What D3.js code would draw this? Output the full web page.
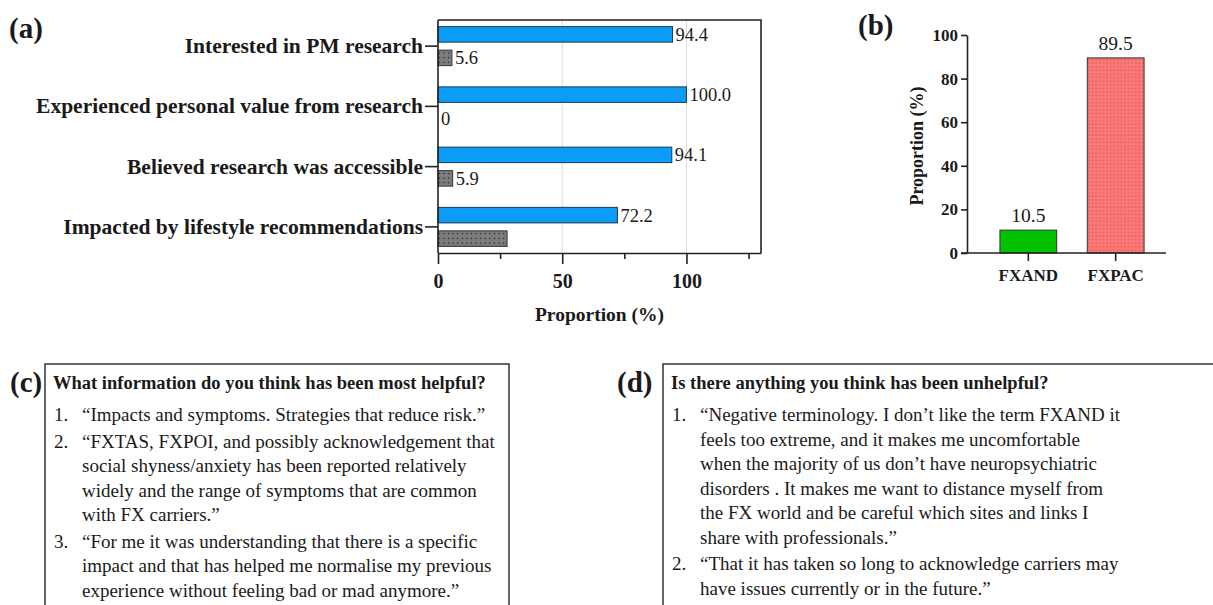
<!DOCTYPE html>
<html lang='en'>
<head>
	<meta charset='utf-8'>
	<script type='text/javascript' src='https://d3js.org/d3.v7.min.js'></script>
	<style type='text/css'>
		body { margin:0; background:#fff; }
		svg text { font-family:"Palatino Linotype", "Book Antiqua", Palatino, "Liberation Serif", serif; fill:#1a1a1a; }
		.bold { font-weight:bold; }
		.axis path, .axis line { stroke:#222; stroke-width:1.6; }
		.axis text { font-weight:bold; fill:#1a1a1a; }
	</style>
</head>
<body>
	<div id='chart'></div>
	<script type='text/javascript'>
		//panel (a) data
		var categoriesA = ['Interested in PM research', 'Experienced personal value from research', 'Believed research was accessible', 'Impacted by lifestyle recommendations'];
		var yesA = [94.4, 100.0, 94.1, 72.2];
		var noA = [5.6, 0, 5.9, 27.8];
		var showNoLabel = [true, true, true, false];
		var ticksA = [0, 50, 100];
		var minorTicksA = [25, 75, 125];

		//panel (b) data
		var groupsB = ['FXAND', 'FXPAC'];
		var valuesB = [10.5, 89.5];
		var ticksB = [0, 20, 40, 60, 80, 100];

		//panel (c) and (d) text
		var titleC = 'What information do you think has been most helpful?';
		var itemsC = [
			['\u201CImpacts and symptoms. Strategies that reduce risk.\u201D'],
			['\u201CFXTAS, FXPOI, and possibly acknowledgement that', 'social shyness/anxiety has been reported relatively', 'widely and the range of symptoms that are common', 'with FX carriers.\u201D'],
			['\u201CFor me it was understanding that there is a specific', 'impact and that has helped me normalise my previous', 'experience without feeling bad or mad anymore.\u201D']
		];
		var titleD = 'Is there anything you think has been unhelpful?';
		var itemsD = [
			['\u201CNegative terminology. I don\u2019t like the term FXAND it', 'feels too extreme, and it makes me uncomfortable', 'when the majority of us don\u2019t have neuropsychiatric', 'disorders . It makes me want to distance myself from', 'the FX world and be careful which sites and links I', 'share with professionals.\u201D'],
			['\u201CThat it has taken so long to acknowledge carriers may', 'have issues currently or in the future.\u201D']
		];

		var width = 1213,
			height = 605;

		var svg = d3.select('#chart')
			.append('svg')
			.attr('width', width)
			.attr('height', height);

		//dot patterns
		var defs = svg.append('defs');
		var grayPat = defs.append('pattern')
			.attr('id', 'grayDots')
			.attr('patternUnits', 'userSpaceOnUse')
			.attr('width', 4.6).attr('height', 4.6);
		grayPat.append('rect').attr('width', 4.6).attr('height', 4.6).attr('fill', '#7d7d7d');
		grayPat.append('circle').attr('cx', 2.3).attr('cy', 2.3).attr('r', 0.75).attr('fill', '#1a1a1a');

		var pinkPat = defs.append('pattern')
			.attr('id', 'pinkDots')
			.attr('patternUnits', 'userSpaceOnUse')
			.attr('width', 3.6).attr('height', 3.6);
		pinkPat.append('rect').attr('width', 3.6).attr('height', 3.6).attr('fill', '#ff7878');
		pinkPat.append('circle').attr('cx', 1.8).attr('cy', 1.8).attr('r', 0.55).attr('fill', '#8a3434');

		// ---------- panel (a) ----------
		var ax0 = 438, ax1 = 761, ayTop = 20, ayBot = 253;
		var xA = d3.scaleLinear().domain([0, 130]).range([ax0, ax1]);
		var yA = d3.scaleBand().domain(categoriesA).range([16, 257]);
		var subA = d3.scaleBand().domain(['yes', 'no']).range([-19.5, 19.5]).paddingInner(0.34);

		var gA = svg.append('g');

		gA.append('text').attr('class', 'bold')
			.attr('x', 9).attr('y', 38)
			.style('font-size', '29px')
			.text('(a)');

		//gridlines
		gA.selectAll('.grid')
			.data(ticksA.slice(1))
			.enter()
			.append('line')
			.attr('x1', function(d){ return xA(d); })
			.attr('x2', function(d){ return xA(d); })
			.attr('y1', ayTop).attr('y2', ayBot)
			.style('stroke', '#dcdcdc')
			.style('stroke-width', 1);

		//frame
		gA.append('path')
			.attr('d', 'M' + ax0 + ',' + ayTop + 'H' + ax1 + 'V' + ayBot)
			.style('fill', 'none')
			.style('stroke', '#222')
			.style('stroke-width', 1.6);

		var rowsA = categoriesA.map(function(c, i){ return {cat:c, yes:yesA[i], no:noA[i], show:showNoLabel[i]}; });

		var row = gA.selectAll('.row')
			.data(rowsA)
			.enter()
			.append('g')
			.attr('transform', function(d){ return 'translate(0,' + (yA(d.cat) + yA.bandwidth() / 2) + ')'; });

		row.append('rect')
			.attr('x', xA(0))
			.attr('y', subA('yes'))
			.attr('width', function(d){ return xA(d.yes) - xA(0); })
			.attr('height', subA.bandwidth())
			.style('fill', '#0a9cf7')
			.style('stroke', '#20384f')
			.style('stroke-width', 1);

		row.append('rect')
			.attr('x', xA(0))
			.attr('y', subA('no'))
			.attr('width', function(d){ return xA(d.no) - xA(0); })
			.attr('height', subA.bandwidth())
			.style('fill', 'url(#grayDots)')
			.style('stroke', function(d){ return d.no > 0 ? '#333' : 'none'; })
			.style('stroke-width', 1);

		row.append('text')
			.attr('x', function(d){ return xA(d.yes) + 3; })
			.attr('y', subA('yes') + subA.bandwidth() / 2)
			.attr('dy', '0.35em')
			.style('font-size', '18.5px')
			.text(function(d){ return d.yes.toFixed(1); });

		row.filter(function(d){ return d.show; })
			.append('text')
			.attr('x', function(d){ return xA(d.no) + 3; })
			.attr('y', subA('no') + subA.bandwidth() / 2)
			.attr('dy', '0.35em')
			.style('font-size', '18.5px')
			.text(function(d){ return d.no === 0 ? '0' : d.no.toFixed(1); });

		//category axis
		var yAxisA = gA.append('g')
			.attr('class', 'axis')
			.attr('transform', 'translate(' + ax0 + ',0)')
			.call(d3.axisLeft(yA).tickSize(13).tickSizeOuter(0).tickPadding(2));
		yAxisA.select('.domain').attr('d', 'M0,' + ayTop + 'V' + ayBot);
		yAxisA.selectAll('text').style('font-size', '21.5px');

		//value axis
		var xAxisA = gA.append('g')
			.attr('class', 'axis')
			.attr('transform', 'translate(0,' + ayBot + ')')
			.call(d3.axisBottom(xA).tickValues(ticksA).tickSize(11).tickSizeOuter(0).tickPadding(10));
		xAxisA.selectAll('text').style('font-size', '20px');

		gA.append('g')
			.attr('class', 'axis')
			.attr('transform', 'translate(0,' + ayBot + ')')
			.call(d3.axisBottom(xA).tickValues(minorTicksA).tickSize(6).tickSizeOuter(0).tickFormat(''))
			.select('.domain').remove();

		gA.append('text').attr('class', 'bold')
			.attr('x', (ax0 + ax1) / 2).attr('y', 321)
			.attr('text-anchor', 'middle')
			.style('font-size', '19.5px')
			.text('Proportion (%)');

		// ---------- panel (b) ----------
		var bx0 = 967, byTop = 35, byBot = 253;
		var xB = d3.scaleBand().domain(groupsB).range([bx0, 1177]).paddingInner(0.35).paddingOuter(0.377);
		var yB = d3.scaleLinear().domain([0, 100]).range([byBot, byTop]);

		var gB = svg.append('g');

		gB.append('text').attr('class', 'bold')
			.attr('x', 858).attr('y', 35)
			.style('font-size', '29px')
			.text('(b)');

		var barsB = groupsB.map(function(g, i){ return {name:g, value:valuesB[i]}; });

		gB.selectAll('.barB')
			.data(barsB)
			.enter()
			.append('rect')
			.attr('x', function(d){ return xB(d.name); })
			.attr('y', function(d){ return yB(d.value); })
			.attr('width', xB.bandwidth())
			.attr('height', function(d){ return yB(0) - yB(d.value); })
			.style('fill', function(d, i){ return i === 0 ? '#00c200' : 'url(#pinkDots)'; })
			.style('stroke', '#333')
			.style('stroke-width', 1);

		gB.selectAll('.labelB')
			.data(barsB)
			.enter()
			.append('text')
			.attr('x', function(d){ return xB(d.name) + xB.bandwidth() / 2; })
			.attr('y', function(d){ return yB(d.value) - 8; })
			.attr('text-anchor', 'middle')
			.style('font-size', '19.5px')
			.text(function(d){ return d.value.toFixed(1); });

		var yAxisB = gB.append('g')
			.attr('class', 'axis')
			.attr('transform', 'translate(' + bx0 + ',0)')
			.call(d3.axisLeft(yB).tickValues(ticksB).tickSize(6).tickSizeOuter(0).tickPadding(3));
		yAxisB.selectAll('text').style('font-size', '17px');

		var xAxisB = gB.append('g')
			.attr('class', 'axis')
			.attr('transform', 'translate(0,' + byBot + ')')
			.call(d3.axisBottom(xB).tickSize(8).tickSizeOuter(0).tickPadding(8));
		xAxisB.select('.domain').attr('d', 'M' + (bx0 - 6) + ',0H1166');
		xAxisB.selectAll('text').style('font-size', '17px');

		gB.append('text').attr('class', 'bold')
			.attr('transform', 'translate(917,' + ((byTop + byBot) / 2 + 2) + ') rotate(-90)')
			.attr('text-anchor', 'middle')
			.attr('dy', '0.35em')
			.style('font-size', '18px')
			.text('Proportion (%)');

		// ---------- panels (c) and (d) ----------
		function textBox(label, labelX, boxX, boxW, title, items){
			var g = svg.append('g');
			var boxTop = 364;
			g.append('rect')
				.attr('x', boxX).attr('y', boxTop)
				.attr('width', boxW).attr('height', height)
				.style('fill', 'none')
				.style('stroke', '#333')
				.style('stroke-width', 1.5);
			g.append('text').attr('class', 'bold')
				.attr('x', labelX).attr('y', 392)
				.style('font-size', '29px')
				.text(label);
			g.append('text').attr('class', 'bold')
				.attr('x', boxX + 8).attr('y', 389)
				.style('font-size', '18.5px')
				.text(title);
			var y = 421;
			items.forEach(function(lines, i){
				g.append('text')
					.attr('x', boxX + 9).attr('y', y)
					.style('font-size', '19px')
					.text((i + 1) + '.');
				lines.forEach(function(line){
					g.append('text')
						.attr('x', boxX + 37).attr('y', y)
						.style('font-size', '19px')
						.text(line);
					y += 24.5;
				});
				y += 2;
			});
		}

		textBox('(c)', 10, 45, 464, titleC, itemsC);
		textBox('(d)', 617, 663, 560, titleD, itemsD);
	</script>
</body>
</html>
